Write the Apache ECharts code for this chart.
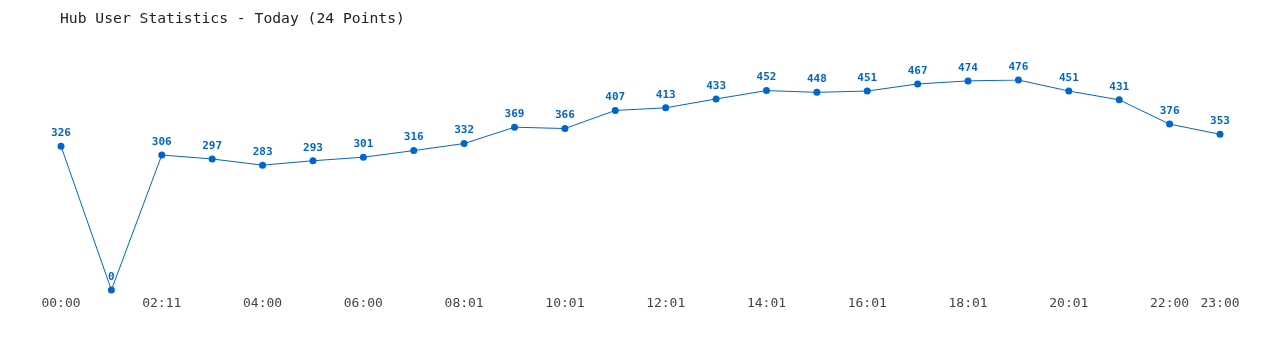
<!DOCTYPE html>
<html><head><meta charset="utf-8">
<script src="https://cdn.jsdelivr.net/npm/echarts@6/dist/echarts.min.js"></script>
<style>html,body{margin:0;padding:0;background:#fff}#c{width:1280px;height:350px}</style>
</head><body><div id="c"></div>
<script>
const titleText = 'Hub User Statistics - Today (24 Points)';
const categories = ['00:00','01:00','02:11','03:00','04:00','05:00','06:00','07:00','08:01','09:01','10:01','11:01','12:01','13:01','14:01','15:01','16:01','17:01','18:01','19:01','20:01','21:01','22:00','23:00'];
const users = [326,0,306,297,283,293,301,316,332,369,366,407,413,433,452,448,451,467,474,476,451,431,376,353];
const shownLabels = [0,2,4,6,8,10,12,14,16,18,20,22,23];

const chart = echarts.init(document.getElementById('c'));
chart.setOption({
  animation:false,
  title:{text:titleText,left:55,top:7,textStyle:{fontFamily:'DejaVu Sans Mono',fontSize:14.7,fontWeight:'normal',color:'#222'}},
  grid:{left:61,right:60,top:80,bottom:60},
  xAxis:{type:'category',data:categories,boundaryGap:false,
    axisLine:{show:false},axisTick:{show:false},splitLine:{show:false},
    axisLabel:{interval:(i)=>shownLabels.includes(i),margin:7,fontFamily:'DejaVu Sans Mono',fontSize:13,color:'#444'}},
  yAxis:{type:'value',min:0,max:'dataMax',show:false,splitLine:{show:false}},
  series:[{type:'line',data:users,symbol:'circle',symbolSize:7,
    lineStyle:{color:'#0066cc',width:1},itemStyle:{color:'#0066cc'},
    label:{show:true,position:'top',distance:4,fontFamily:'DejaVu Sans Mono',fontSize:11,fontWeight:'bold',color:'#0066cc'}}]
});
</script></body></html>
